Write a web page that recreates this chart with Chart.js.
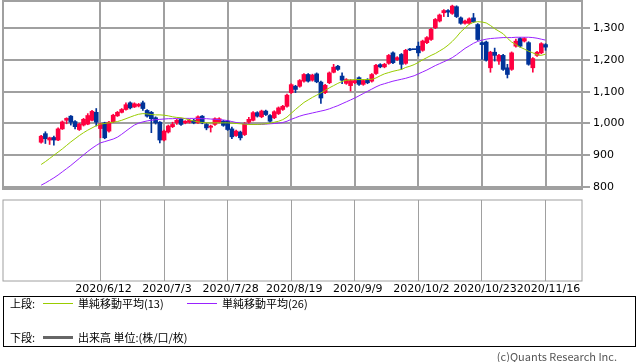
<!DOCTYPE html>
<html><head><meta charset="utf-8">
<script src="https://cdn.jsdelivr.net/npm/chart.js@4.4.0/dist/chart.umd.min.js"></script>
<style>
html,body{margin:0;padding:0;background:#fff;}
body{width:638px;height:362px;position:relative;overflow:hidden;font-family:"Noto Sans CJK JP",sans-serif;}
canvas{position:absolute;left:0;}
#c1{top:0;}
#c2{top:190px;}
#legend{position:absolute;left:3px;top:296px;width:633px;height:51px;box-sizing:border-box;border:1px solid #000;}
.t{position:absolute;font-size:11px;line-height:14px;color:#000;white-space:nowrap;}
.ln{position:absolute;}
#copy{position:absolute;right:21px;top:349px;font-size:11px;line-height:14px;color:#555;white-space:nowrap;}
</style></head>
<body>
<canvas id="c1" width="638" height="196"></canvas>
<canvas id="c2" width="638" height="110"></canvas>
<div id="legend"></div>
<div class="t" style="left:10px;top:296px;">上段:</div>
<div class="ln" style="left:43px;top:303px;width:30px;height:1px;background:#99cc00;"></div>
<div class="t" style="left:78px;top:296px;">単純移動平均(13)</div>
<div class="ln" style="left:187px;top:303px;width:30px;height:1px;background:#9922ff;"></div>
<div class="t" style="left:222px;top:296px;">単純移動平均(26)</div>
<div class="t" style="left:10px;top:330px;">下段:</div>
<div class="ln" style="left:43px;top:336px;width:30px;height:3px;background:#666;"></div>
<div class="t" style="left:78px;top:330px;">出来高 単位:(株/口/枚)</div>
<div id="copy">(c)Quants Research Inc.</div>
<script>
// trading-day index of each labelled date
const tickIndex = [14, 29, 44, 59, 74, 89, 104, 119];
const tickLabels = ['2020/6/12','2020/7/3','2020/7/28','2020/8/19','2020/9/9','2020/10/2','2020/10/23','2020/11/16'];
const yTicks = [800, 900, 1000, 1100, 1200, 1300];

const open = [941,968,948,956,948,983,1010,1023,1006,981,995,998,1010,1035,984,1002,976,1005,1024,1035,
1044,1065,1052,1055,1065,1041,1035,1018,1004,948,973,990,1002,1013,1002,1004,1010,1002,1023,997,
988,997,1004,1007,1007,983,962,973,965,1004,1010,1034,1021,1039,1025,1018,1031,1044,1054,1097,
1117,1117,1133,1154,1136,1156,1130,1097,1128,1161,1180,1149,1126,1119,1128,1144,1123,1138,1133,1157,
1185,1178,1189,1222,1201,1217,1189,1234,1233,1243,1230,1254,1264,1301,1322,1348,1355,1346,1367,1332,
1315,1315,1332,1311,1254,1256,1175,1224,1196,1214,1175,1170,1243,1267,1259,1254,1175,1214,1222,1248];
const close = [960,952,955,948,983,1005,1016,1004,990,998,1013,1025,1038,1004,999,955,1004,1026,1035,1044,
1059,1049,1062,1060,1047,1023,1015,1002,948,976,992,997,1010,997,1007,1010,1002,1021,1002,986,
992,1015,1015,994,981,958,976,955,1000,1013,1034,1023,1039,1028,1007,1037,1049,1054,1089,1122,
1107,1135,1154,1133,1152,1131,1080,1120,1159,1177,1170,1136,1138,1135,1135,1123,1135,1128,1154,1183,
1178,1186,1214,1191,1207,1186,1230,1231,1232,1222,1259,1270,1296,1327,1341,1355,1350,1369,1336,1315,
1322,1329,1320,1264,1248,1199,1224,1214,1214,1170,1154,1222,1259,1243,1267,1186,1204,1224,1251,1240];
const high = [963,974,957,960,986,1008,1018,1025,1009,1001,1016,1031,1041,1047,1001,1004,1007,1029,1038,1047,
1065,1068,1065,1063,1070,1044,1038,1021,1006,979,995,1004,1013,1016,1009,1013,1013,1024,1025,1000,
995,1018,1018,1010,1010,989,979,976,1003,1019,1037,1037,1042,1042,1028,1040,1052,1057,1092,1125,
1120,1138,1157,1157,1155,1159,1133,1123,1162,1186,1183,1159,1141,1138,1138,1147,1138,1141,1157,1186,
1188,1189,1217,1225,1210,1220,1233,1236,1233,1256,1262,1273,1299,1330,1344,1358,1358,1372,1370,1335,
1325,1332,1346,1314,1257,1259,1227,1237,1217,1217,1186,1225,1265,1270,1270,1257,1207,1227,1254,1251];
const low = [938,937,934,932,946,981,999,995,983,978,992,996,1008,992,955,952,973,1003,1022,1033,
1042,1046,1050,1052,1041,1020,971,998,939,945,970,987,997,994,999,1001,999,1000,999,980,
973,994,1002,991,978,952,959,948,962,1000,1008,1020,1018,1025,1004,1015,1028,1041,1051,1094,
1097,1114,1130,1130,1133,1128,1063,1094,1125,1159,1167,1125,1123,1102,1125,1120,1120,1125,1130,1154,
1175,1175,1186,1188,1198,1170,1186,1229,1232,1212,1227,1251,1261,1298,1319,1336,1336,1343,1333,1312,
1312,1312,1317,1261,1201,1196,1161,1196,1186,1167,1143,1167,1240,1240,1256,1183,1161,1211,1219,1230];

const sma13 = [871,880,890,900,910,920,931,942,952,962,971,979,986,993,998,1000,1002,1004,1006,1010,
1015,1020,1025,1029,1031,1030,1028,1027,1027,1026,1024,1021,1019,1018,1015,1011,1008,1005,1003,1002,
1002,1002,1002,1002,1002,1001,1000,999,998,997,997,997,998,999,1001,1004,1007,1012,1020,1032,
1044,1055,1066,1074,1082,1089,1096,1104,1112,1119,1126,1132,1136,1137,1138,1138,1138,1138,1139,1143,
1150,1156,1160,1164,1167,1170,1176,1180,1185,1192,1200,1207,1214,1220,1228,1236,1246,1258,1272,1288,
1300,1312,1318,1320,1319,1316,1308,1298,1290,1282,1268,1256,1248,1240,1234,1227,1222,1216,1214,1218];
const sma26 = [806,813,821,829,838,848,858,868,879,890,901,912,922,931,939,943,947,951,957,966,
976,986,995,1001,1005,1008,1010,1012,1013,1014,1015,1015,1016,1016,1016,1016,1016,1016,1015,1015,
1014,1013,1012,1011,1009,1006,1003,1001,999,998,997,997,997,998,999,1000,1001,1003,1007,1013,
1018,1023,1027,1030,1033,1036,1039,1042,1046,1051,1056,1062,1068,1074,1080,1087,1094,1101,1108,1115,
1121,1125,1129,1133,1136,1139,1142,1146,1150,1156,1162,1168,1175,1182,1188,1194,1200,1207,1216,1226,
1236,1244,1252,1258,1262,1265,1267,1268,1269,1270,1270,1270,1271,1271,1271,1271,1270,1268,1265,1262];

const UP = '#ff0040', DOWN = '#003399', GREEN = '#99cc00', PURPLE = '#9922ff', GRID = '#a0a0a0';
const colors = close.map((c, i) => c >= open[i] ? UP : DOWN);
const X_MIN = -9, X_MAX = 127.6;

const framePlugin = (w) => ({
  id: 'frame',
  afterDraw(chart) {
    const a = chart.chartArea, ctx = chart.ctx;
    ctx.save(); ctx.strokeStyle = GRID; ctx.lineWidth = w;
    ctx.strokeRect(a.left, a.top, a.right - a.left, a.bottom - a.top);
    ctx.restore();
  }
});

new Chart(document.getElementById('c1'), {
  type: 'bar',
  data: { datasets: [
    { type: 'line', data: sma13.map((v, i) => ({x: i, y: v})), borderColor: GREEN, borderWidth: 1, pointRadius: 0, tension: 0, order: 0 },
    { type: 'line', data: sma26.map((v, i) => ({x: i, y: v})), borderColor: PURPLE, borderWidth: 1, pointRadius: 0, tension: 0, order: 0 },
    { type: 'bar', data: high.map((h, i) => ({x: i, y: [low[i], h]})), backgroundColor: colors, barThickness: 1, grouped: false, order: 2 },
    { type: 'bar', data: open.map((o, i) => ({x: i, y: [o, close[i]]})), backgroundColor: colors, barThickness: 4, minBarLength: 1, grouped: false, order: 1 }
  ]},
  options: {
    responsive: false, animation: false, events: [],
    layout: { padding: { left: 3, top: 1, right: 0, bottom: 7 } },
    plugins: { legend: { display: false }, tooltip: { enabled: false } },
    scales: {
      x: { type: 'linear', min: X_MIN, max: X_MAX, offset: false,
           afterBuildTicks: s => { s.ticks = tickIndex.map(v => ({value: v})); },
           ticks: { display: false }, grid: { color: GRID, lineWidth: 2, drawTicks: false, offset: false }, border: { display: false },
           afterFit: s => { s.height = 0; s.paddingLeft = 0; s.paddingRight = 0; } },
      y: { position: 'right', min: 794, max: 1385,
           afterBuildTicks: s => { s.ticks = yTicks.map(v => ({value: v})); },
           ticks: { font: { family: 'DejaVu Sans', size: 11 }, color: '#000', padding: 3,
                    callback: v => v.toLocaleString('en-US') },
           grid: { color: GRID, lineWidth: 2, tickLength: 8 }, border: { display: false },
           afterFit: s => { s.width = 56; s.paddingTop = 0; s.paddingBottom = 0; } }
    }
  },
  plugins: [framePlugin(2)]
});

new Chart(document.getElementById('c2'), {
  type: 'bar',
  data: { datasets: [{ data: [], barThickness: 3 }] },
  options: {
    responsive: false, animation: false, events: [],
    layout: { padding: { left: 3, top: 10, right: 56, bottom: 0 } },
    plugins: { legend: { display: false }, tooltip: { enabled: false } },
    scales: {
      x: { type: 'linear', min: X_MIN, max: X_MAX, offset: false,
           afterBuildTicks: s => { s.ticks = tickIndex.map(v => ({value: v})); },
           ticks: { font: { family: 'DejaVu Sans', size: 11 }, color: '#000', padding: 2, labelOffset: 3,
                    autoSkip: false, maxRotation: 0, minRotation: 0,
                    callback: (v, i) => tickLabels[i] },
           grid: { color: GRID, lineWidth: 1, drawTicks: false, offset: false }, border: { display: false },
           afterFit: s => { s.height = 19; s.paddingLeft = 0; s.paddingRight = 0; } },
      y: { display: false, min: 0, max: 1 }
    }
  },
  plugins: [framePlugin(1)]
});
</script>
</body></html>
